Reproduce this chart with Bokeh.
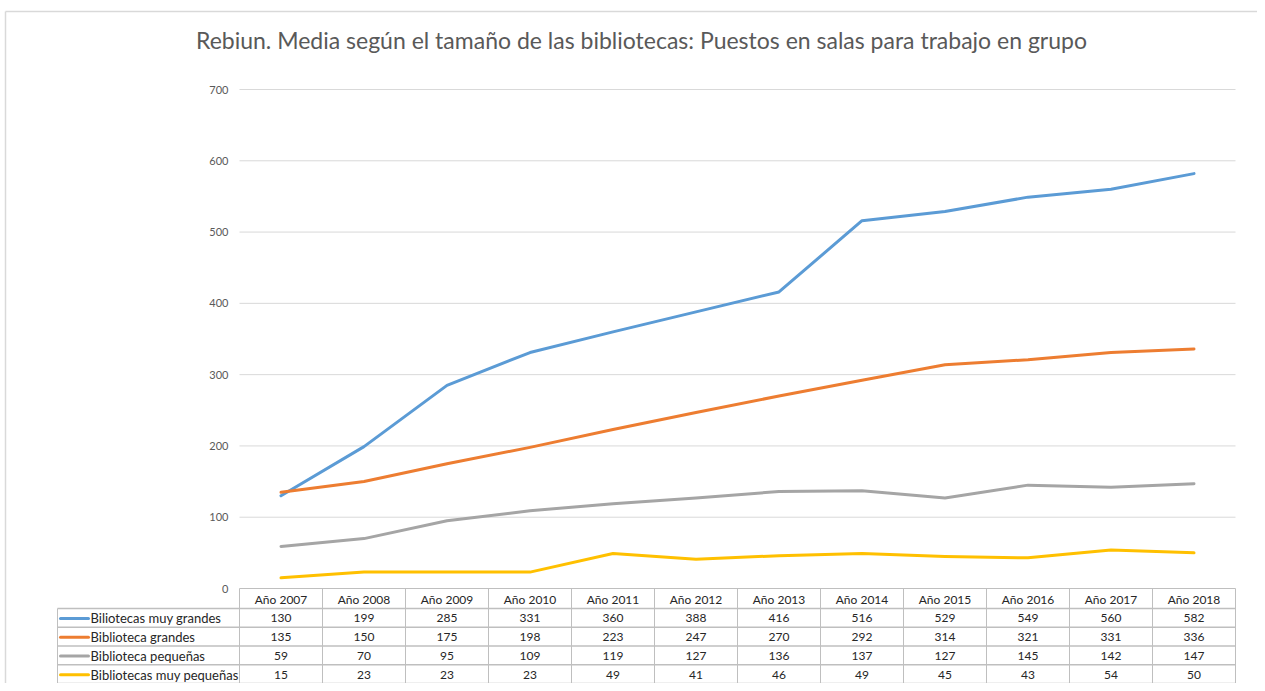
from bokeh.plotting import figure
from bokeh.models import Range1d
from bokeh.core.properties import value
from bokeh.embed import file_html
from bokeh.resources import INLINE

title_text = "Rebiun. Media según el tamaño de las bibliotecas: Puestos en salas para trabajo en grupo"
years = ["Año 2007", "Año 2008", "Año 2009", "Año 2010", "Año 2011", "Año 2012",
         "Año 2013", "Año 2014", "Año 2015", "Año 2016", "Año 2017", "Año 2018"]
series_names = ["Biliotecas muy grandes", "Biblioteca grandes",
                "Biblioteca pequeñas", "Bibliotecas muy pequeñas"]
muy_grandes = [130, 199, 285, 331, 360, 388, 416, 516, 529, 549, 560, 582]
grandes = [135, 150, 175, 198, 223, 247, 270, 292, 314, 321, 331, 336]
pequenas = [59, 70, 95, 109, 119, 127, 136, 137, 127, 145, 142, 147]
muy_pequenas = [15, 23, 23, 23, 49, 41, 46, 49, 45, 43, 54, 50]
y_ticks = [0, 100, 200, 300, 400, 500, 600, 700]
colors = ["#5B9BD5", "#ED7D31", "#A5A5A5", "#FFC000"]
series = [muy_grandes, grandes, pequenas, muy_pequenas]

FONT = value("Lato")

# layout (screen pixels -> data units)
S = 83.0          # px per category
K = 499.0 / 700   # px per value unit
X0, Y0 = 239.0, 588.0


def xu(sx):
    return (sx - X0) / S


def yv(sy):
    return (Y0 - sy) / K


W, H = 1257, 683
p = figure(width=W, height=H, output_backend="svg", toolbar_location=None,
           x_axis_type=None, y_axis_type=None, min_border=0,
           x_range=Range1d(xu(0), xu(W)),
           y_range=Range1d(yv(H), yv(0)))
p.outline_line_color = None
p.background_fill_color = "white"
p.border_fill_color = "white"
p.grid.visible = False

n = len(years)
xs = [i + 0.5 for i in range(n)]

# chart border
p.segment(x0=[xu(5), xu(5)], y0=[yv(11), yv(11)], x1=[xu(5), xu(1300)], y1=[yv(720), yv(11)],
          line_color="#D9D9D9", line_width=1.5)

# title
p.text(x=[xu(641)], y=[yv(39)], text=[title_text], text_font=FONT,
       text_font_size="23px", text_color="#595959", text_align="center",
       text_baseline="middle")

# gridlines
gt = [t for t in y_ticks if t > 0]
p.segment(x0=[0] * len(gt), y0=gt, x1=[n] * len(gt), y1=gt,
          line_color="#D9D9D9", line_width=1)

# y tick labels
p.text(x=[xu(228)] * len(y_ticks), y=y_ticks, text=[str(t) for t in y_ticks],
       text_font=FONT, text_font_size="11px", text_color="#595959",
       text_align="right", text_baseline="middle")

# series lines
for vals, c in zip(series, colors):
    p.line(x=xs, y=vals, line_color=c, line_width=3, line_cap="round", line_join="round")

# data table (header row + 4 data rows, fitted into the canvas)
HEAD = 20.0
ROW = 18.75
row_tops = [Y0] + [Y0 + HEAD + ROW * k for k in range(5)]
grid_c = "#BFBFBF"
# header top line
p.segment(x0=[0], y0=[yv(row_tops[0])], x1=[n], y1=[yv(row_tops[0])],
          line_color=grid_c, line_width=1)
# row lines
hy = [yv(y) for y in row_tops[1:]]
p.segment(x0=[xu(57)] * len(hy), y0=hy, x1=[n] * len(hy), y1=hy,
          line_color=grid_c, line_width=1.3)
# vertical lines
vx = list(range(n + 1))
p.segment(x0=vx, y0=[yv(row_tops[0])] * len(vx), x1=vx, y1=[yv(row_tops[5])] * len(vx),
          line_color=grid_c, line_width=1)
p.segment(x0=[xu(57)], y0=[yv(row_tops[1])], x1=[xu(57)], y1=[yv(row_tops[5])],
          line_color=grid_c, line_width=1)

# header text
p.text(x=xs, y=[yv(row_tops[0] + HEAD / 2 + 0.5)] * n, text=years, text_font=FONT,
       text_font_size="12px", text_color="#262626", text_align="center",
       text_baseline="middle")

# rows
for k, (name, vals, c) in enumerate(zip(series_names, series, colors)):
    cy = yv(row_tops[k + 1] + ROW / 2 + 0.5)
    p.text(x=xs, y=[cy] * n, text=[str(v) for v in vals], text_font=FONT,
           text_font_size="12px", text_color="#262626", text_align="center",
           text_baseline="middle")
    p.segment(x0=[xu(60)], y0=[cy], x1=[xu(88)], y1=[cy], line_color=c,
              line_width=3, line_cap="round")
    p.text(x=[xu(90)], y=[cy], text=[name], text_font=FONT, text_font_size="13px",
           text_color="#262626", text_align="left", text_baseline="middle")

open("out.html", "w").write(file_html(p, INLINE))
